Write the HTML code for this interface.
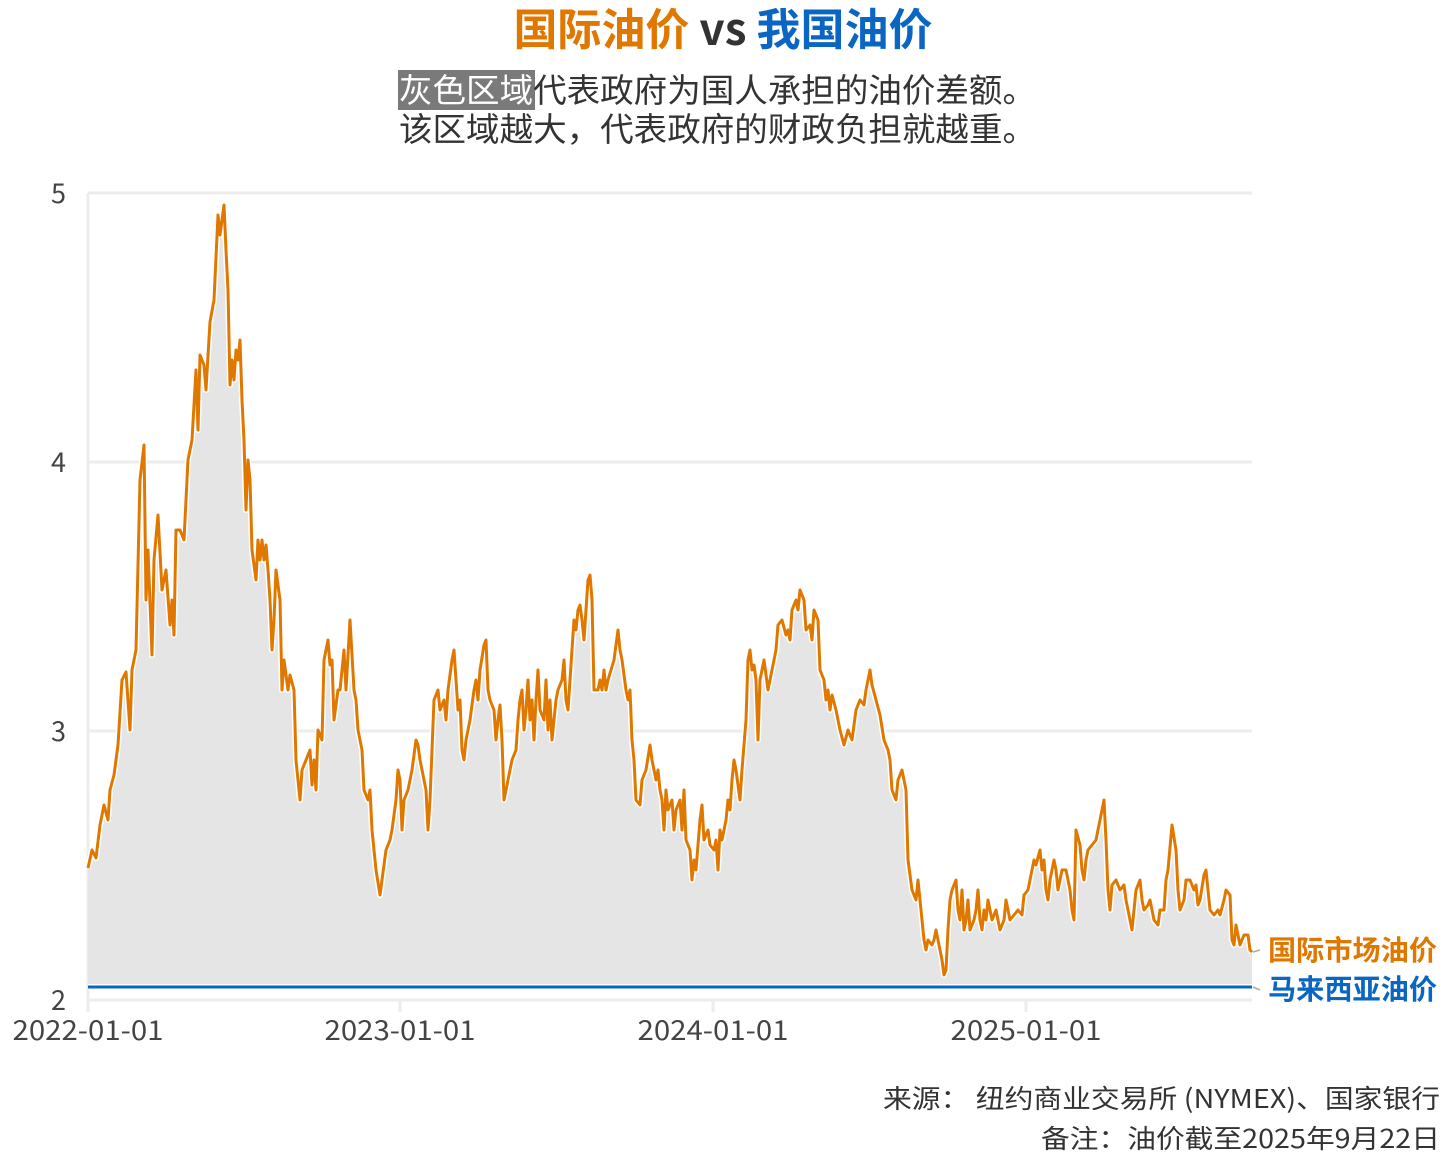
<!DOCTYPE html>
<html><head><meta charset="utf-8">
<style>
body{margin:0;background:#fff;width:1446px;height:1168px;overflow:hidden;font-family:"Noto Sans CJK SC",sans-serif;}
</style></head><body>
<svg width="1446" height="1168" xmlns="http://www.w3.org/2000/svg" style="font-family:'Noto Sans CJK SC','Liberation Sans',sans-serif">
<text x="723" y="45" text-anchor="middle" font-size="44" font-weight="bold"><tspan fill="#e07800">国际油价</tspan><tspan fill="#333"> vs </tspan><tspan fill="#0a66c2">我国油价</tspan></text>
<rect x="398" y="70" width="137" height="40" fill="#7a7a7a"/>
<text x="399" y="102" font-size="33" fill="#333" textLength="637" lengthAdjust="spacingAndGlyphs"><tspan fill="#fff">灰色区域</tspan>代表政府为国人承担的油价差额。</text>
<text x="399" y="141" font-size="33" fill="#333" textLength="637" lengthAdjust="spacingAndGlyphs">该区域越大，代表政府的财政负担就越重。</text>
<g stroke="#ececec" stroke-width="3">
<line x1="88" y1="193" x2="1252" y2="193"/><line x1="88" y1="462" x2="1252" y2="462"/><line x1="88" y1="731" x2="1252" y2="731"/><line x1="88" y1="1000" x2="1252" y2="1000"/>
<line x1="88" y1="193" x2="88" y2="1000"/>
<line x1="88" y1="1000" x2="88" y2="1012"/><line x1="400" y1="1000" x2="400" y2="1012"/><line x1="713" y1="1000" x2="713" y2="1012"/><line x1="1026" y1="1000" x2="1026" y2="1012"/>
</g>
<g font-size="27" fill="#444" text-anchor="end">
<text x="66" y="203">5</text><text x="66" y="472">4</text><text x="66" y="741">3</text><text x="66" y="1010">2</text>
</g>
<g font-size="27" fill="#444" text-anchor="middle">
<text x="88" y="1040" textLength="151" lengthAdjust="spacingAndGlyphs">2022-01-01</text><text x="400" y="1040" textLength="151" lengthAdjust="spacingAndGlyphs">2023-01-01</text><text x="713" y="1040" textLength="151" lengthAdjust="spacingAndGlyphs">2024-01-01</text><text x="1026" y="1040" textLength="151" lengthAdjust="spacingAndGlyphs">2025-01-01</text>
</g>
<path id="p" d="M88,868 L92,850 96,858 100,825 104,805 108,820 110,790 114,775 118,745 122,680 126,672 130,730 132,670 136,650 140,480 144,445 146,600 148,550 152,655 154,560 158,515 162,590 166,570 170,625 172,600 174,635 176,530 180,530 184,540 188,460 192,440 196,370 198,430 200,355 204,365 206,390 210,322 214,300 218,215 220,235 224,205 226,250 228,290 230,385 232,360 234,380 236,350 238,360 240,340 242,400 244,440 246,510 248,460 250,480 252,550 256,580 258,540 260,560 262,540 264,560 266,545 268,570 270,600 272,650 274,620 276,570 280,600 282,690 284,660 288,690 290,675 294,690 296,760 298,780 300,800 302,770 306,760 310,750 312,785 314,760 316,790 318,730 322,740 324,660 328,640 330,665 332,660 334,720 338,690 340,690 344,650 346,690 350,620 354,690 356,700 358,730 362,750 364,790 368,800 370,790 372,830 376,870 380,895 382,880 386,850 390,840 392,830 396,800 398,770 400,780 402,830 404,800 408,790 412,770 416,740 418,745 420,760 424,780 426,790 428,830 430,800 432,750 434,700 438,690 440,710 444,700 446,720 448,690 452,660 454,650 456,680 458,710 460,700 462,750 464,760 466,740 470,720 474,690 476,680 478,700 480,670 484,645 486,640 488,690 490,700 494,710 496,740 498,720 500,705 502,740 504,800 508,780 512,760 516,750 518,720 520,700 522,690 524,730 526,710 528,680 530,720 532,700 534,740 536,700 538,670 540,710 544,720 546,680 548,730 550,700 552,740 556,700 558,690 562,680 564,660 566,700 568,710 572,650 574,620 576,630 578,610 580,605 582,620 584,640 588,580 590,575 592,600 594,690 598,690 600,680 602,690 604,670 606,690 608,680 614,660 618,630 620,650 622,660 626,690 628,700 630,690 632,740 634,760 636,800 640,805 642,780 646,770 650,745 652,760 656,780 658,770 660,790 662,800 664,830 666,790 668,810 672,800 674,830 676,810 680,800 682,830 684,790 686,840 690,850 692,880 694,860 696,870 700,820 702,805 704,840 708,830 710,845 714,850 716,840 718,870 720,830 722,840 726,820 728,800 730,810 732,780 734,760 736,770 740,800 742,770 744,745 746,720 748,660 750,650 752,670 754,665 756,680 758,740 760,680 764,660 768,690 772,670 776,650 778,625 782,620 786,635 788,630 790,640 792,610 796,600 798,610 800,590 804,600 806,630 810,625 812,640 814,610 818,620 820,670 824,680 826,700 828,690 830,710 832,695 836,710 838,720 840,730 844,745 848,730 852,740 856,710 860,700 864,705 866,690 868,680 870,670 872,685 876,700 880,715 884,740 888,750 890,760 892,790 896,800 898,780 902,770 904,780 906,790 908,860 912,890 916,900 918,880 920,900 922,920 924,940 926,950 928,940 932,945 934,940 936,930 940,950 942,960 944,975 946,970 948,930 950,900 952,890 956,880 958,910 960,920 962,890 964,930 966,920 968,900 970,930 974,920 976,910 978,890 980,920 982,930 984,910 986,920 988,900 990,910 992,920 996,910 998,920 1000,930 1004,920 1006,900 1010,920 1014,915 1018,910 1022,915 1024,895 1028,890 1030,880 1034,860 1036,865 1040,850 1042,870 1044,860 1046,890 1048,900 1050,880 1054,860 1056,870 1058,890 1060,880 1062,870 1066,870 1070,890 1072,910 1074,920 1076,830 1080,845 1082,870 1084,880 1086,860 1088,850 1092,845 1096,840 1098,830 1100,820 1104,800 1106,840 1108,890 1110,910 1112,885 1116,880 1120,890 1124,885 1126,900 1130,920 1132,930 1134,910 1136,890 1140,880 1142,900 1144,910 1148,905 1150,900 1154,920 1158,925 1160,910 1164,910 1166,880 1168,870 1172,825 1176,850 1178,890 1180,910 1184,900 1186,880 1190,880 1194,890 1196,885 1198,905 1200,900 1204,875 1206,870 1208,890 1210,910 1214,915 1218,910 1220,915 1224,900 1226,890 1230,895 1232,940 1234,945 1236,925 1238,935 1240,945 1242,940 1244,935 1248,935 1250,950 1252,952" fill="none"/>
<path d="M88,987 L88,868 L92,850 96,858 100,825 104,805 108,820 110,790 114,775 118,745 122,680 126,672 130,730 132,670 136,650 140,480 144,445 146,600 148,550 152,655 154,560 158,515 162,590 166,570 170,625 172,600 174,635 176,530 180,530 184,540 188,460 192,440 196,370 198,430 200,355 204,365 206,390 210,322 214,300 218,215 220,235 224,205 226,250 228,290 230,385 232,360 234,380 236,350 238,360 240,340 242,400 244,440 246,510 248,460 250,480 252,550 256,580 258,540 260,560 262,540 264,560 266,545 268,570 270,600 272,650 274,620 276,570 280,600 282,690 284,660 288,690 290,675 294,690 296,760 298,780 300,800 302,770 306,760 310,750 312,785 314,760 316,790 318,730 322,740 324,660 328,640 330,665 332,660 334,720 338,690 340,690 344,650 346,690 350,620 354,690 356,700 358,730 362,750 364,790 368,800 370,790 372,830 376,870 380,895 382,880 386,850 390,840 392,830 396,800 398,770 400,780 402,830 404,800 408,790 412,770 416,740 418,745 420,760 424,780 426,790 428,830 430,800 432,750 434,700 438,690 440,710 444,700 446,720 448,690 452,660 454,650 456,680 458,710 460,700 462,750 464,760 466,740 470,720 474,690 476,680 478,700 480,670 484,645 486,640 488,690 490,700 494,710 496,740 498,720 500,705 502,740 504,800 508,780 512,760 516,750 518,720 520,700 522,690 524,730 526,710 528,680 530,720 532,700 534,740 536,700 538,670 540,710 544,720 546,680 548,730 550,700 552,740 556,700 558,690 562,680 564,660 566,700 568,710 572,650 574,620 576,630 578,610 580,605 582,620 584,640 588,580 590,575 592,600 594,690 598,690 600,680 602,690 604,670 606,690 608,680 614,660 618,630 620,650 622,660 626,690 628,700 630,690 632,740 634,760 636,800 640,805 642,780 646,770 650,745 652,760 656,780 658,770 660,790 662,800 664,830 666,790 668,810 672,800 674,830 676,810 680,800 682,830 684,790 686,840 690,850 692,880 694,860 696,870 700,820 702,805 704,840 708,830 710,845 714,850 716,840 718,870 720,830 722,840 726,820 728,800 730,810 732,780 734,760 736,770 740,800 742,770 744,745 746,720 748,660 750,650 752,670 754,665 756,680 758,740 760,680 764,660 768,690 772,670 776,650 778,625 782,620 786,635 788,630 790,640 792,610 796,600 798,610 800,590 804,600 806,630 810,625 812,640 814,610 818,620 820,670 824,680 826,700 828,690 830,710 832,695 836,710 838,720 840,730 844,745 848,730 852,740 856,710 860,700 864,705 866,690 868,680 870,670 872,685 876,700 880,715 884,740 888,750 890,760 892,790 896,800 898,780 902,770 904,780 906,790 908,860 912,890 916,900 918,880 920,900 922,920 924,940 926,950 928,940 932,945 934,940 936,930 940,950 942,960 944,975 946,970 948,930 950,900 952,890 956,880 958,910 960,920 962,890 964,930 966,920 968,900 970,930 974,920 976,910 978,890 980,920 982,930 984,910 986,920 988,900 990,910 992,920 996,910 998,920 1000,930 1004,920 1006,900 1010,920 1014,915 1018,910 1022,915 1024,895 1028,890 1030,880 1034,860 1036,865 1040,850 1042,870 1044,860 1046,890 1048,900 1050,880 1054,860 1056,870 1058,890 1060,880 1062,870 1066,870 1070,890 1072,910 1074,920 1076,830 1080,845 1082,870 1084,880 1086,860 1088,850 1092,845 1096,840 1098,830 1100,820 1104,800 1106,840 1108,890 1110,910 1112,885 1116,880 1120,890 1124,885 1126,900 1130,920 1132,930 1134,910 1136,890 1140,880 1142,900 1144,910 1148,905 1150,900 1154,920 1158,925 1160,910 1164,910 1166,880 1168,870 1172,825 1176,850 1178,890 1180,910 1184,900 1186,880 1190,880 1194,890 1196,885 1198,905 1200,900 1204,875 1206,870 1208,890 1210,910 1214,915 1218,910 1220,915 1224,900 1226,890 1230,895 1232,940 1234,945 1236,925 1238,935 1240,945 1242,940 1244,935 1248,935 1250,950 1252,952 L1252,987 Z" fill="#e5e5e5"/>
<use href="#p" stroke="#fff" stroke-width="6" stroke-linejoin="round"/>
<use href="#p" stroke="#e07800" stroke-width="3" stroke-linejoin="round"/>
<line x1="88" y1="987" x2="1252" y2="987" stroke="#fff" stroke-width="6"/>
<line x1="88" y1="987" x2="1252" y2="987" stroke="#0a66c2" stroke-width="3"/>
<path d="M1253,952 L1260,950 M1253,987 L1260,990" stroke="#aaa" stroke-width="1.5" fill="none"/>
<text x="1268" y="960" font-size="28" font-weight="bold" fill="#e07800" textLength="169" lengthAdjust="spacingAndGlyphs">国际市场油价</text>
<text x="1268" y="999" font-size="28" font-weight="bold" fill="#0a66c2" textLength="169" lengthAdjust="spacingAndGlyphs">马来西亚油价</text>
<g font-size="26" fill="#333">
<text x="883" y="1108" textLength="557" lengthAdjust="spacingAndGlyphs">来源：  纽约商业交易所 (NYMEX)、国家银行</text>
<text x="1041" y="1148" textLength="399" lengthAdjust="spacingAndGlyphs">备注：油价截至2025年9月22日</text>
</g>
</svg>
</body></html>
